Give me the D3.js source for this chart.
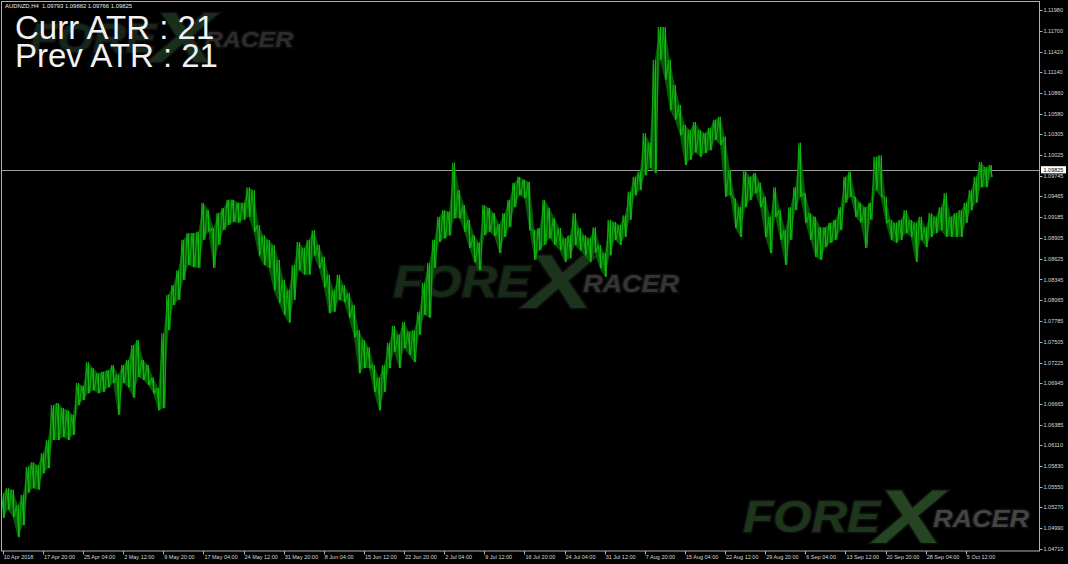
<!DOCTYPE html>
<html>
<head>
<meta charset="utf-8">
<script src="https://cdn.jsdelivr.net/npm/d3@7"></script>
<style>
  html, body { margin: 0; padding: 0; background: #000; }
  svg { display: block; }
</style>
</head>
<body>
<svg id="chart" width="1068" height="564"></svg>
<script>
// ---------------- DATA ----------------
const symbol = "AUDNZD,H4";
const ohlcHeader = [1.09793, 1.09882, 1.09766, 1.09825];
const lastPrice = 1.09825;
const currATR = 21;
const prevATR = 21;

const priceTicks = [1.11980, 1.11700, 1.11420, 1.11140, 1.10860, 1.10580, 1.10305, 1.10025,
  1.09745, 1.09465, 1.09185, 1.08905, 1.08625, 1.08345, 1.08065, 1.07785, 1.07505, 1.07225,
  1.06945, 1.06665, 1.06385, 1.06110, 1.05830, 1.05550, 1.05270, 1.04990, 1.04710];

const timeLabels = ["10 Apr 2018", "17 Apr 20:00", "25 Apr 04:00", "2 May 12:00", "9 May 20:00",
  "17 May 04:00", "24 May 12:00", "31 May 20:00", "8 Jun 04:00", "15 Jun 12:00", "22 Jun 20:00",
  "2 Jul 04:00", "9 Jul 12:00", "16 Jul 20:00", "24 Jul 04:00", "31 Jul 12:00", "7 Aug 20:00",
  "15 Aug 04:00", "22 Aug 12:00", "29 Aug 20:00", "6 Sep 04:00", "13 Sep 12:00", "20 Sep 20:00",
  "28 Sep 04:00", "5 Oct 12:00"];
const barsPerLabel = 32;   // H4 bars between time labels
const barsPerGroup = 4;    // each hi/lo pair covers 4 H4 bars

// highs and lows of consecutive 4-bar groups (16 hours each)
const highs = [1.0546,1.0553,1.0551,1.0530,1.0544,1.0582,1.0588,1.0584,1.0600,1.0618,
  1.0665,1.0668,1.0661,1.0658,1.0652,1.0695,1.0691,1.0723,1.0715,1.0708,
  1.0710,1.0712,1.0719,1.0706,1.0719,1.0726,1.0746,1.0753,1.0726,1.0719,
  1.0702,1.0688,1.0762,1.0814,1.0827,1.0847,1.0888,1.0897,1.0897,1.0899,
  1.0938,1.0928,1.0904,1.0924,1.0931,1.0942,1.0942,1.0938,1.0938,1.0959,
  1.0955,1.0908,1.0894,1.0888,1.0881,1.0861,1.0834,1.0820,1.0854,1.0885,
  1.0877,1.0888,1.0901,1.0881,1.0865,1.0841,1.0820,1.0841,1.0827,1.0816,
  1.0800,1.0766,1.0753,1.0743,1.0719,1.0702,1.0719,1.0749,1.0772,1.0760,
  1.0777,1.0764,1.0766,1.0791,1.0830,1.0857,1.0888,1.0919,1.0928,1.0926,
  1.0992,1.0955,1.0935,1.0915,1.0894,1.0884,1.0935,1.0931,1.0924,1.0909,
  1.0924,1.0942,1.0965,1.0973,1.0969,1.0966,1.0901,1.0904,1.0942,1.0931,
  1.0917,1.0904,1.0890,1.0894,1.0924,1.0904,1.0894,1.0890,1.0905,1.0881,
  1.0870,1.0915,1.0912,1.0908,1.0921,1.0953,1.0973,1.0980,1.1032,1.1019,
  1.1131,1.1175,1.1175,1.1131,1.1097,1.1070,1.1043,1.1036,1.1047,1.1036,
  1.1032,1.1039,1.1050,1.1054,1.1027,1.0982,1.0944,1.0932,1.0982,1.0973,
  1.0978,1.0965,1.0946,1.0919,1.0959,1.0928,1.0901,1.0932,1.0959,1.1019,
  1.0951,1.0924,1.0919,1.0905,1.0905,1.0911,1.0915,1.0932,1.0973,1.0980,
  1.0946,1.0938,1.0932,1.0938,1.1000,1.1002,1.0946,1.0915,1.0911,1.0915,
  1.0928,1.0915,1.0911,1.0919,1.0905,1.0924,1.0919,1.0932,1.0951,1.0919,
  1.0924,1.0928,1.0938,1.0955,1.0973,1.0993,1.0986,1.0989];

const lows = [1.0513,1.0524,1.0514,1.0487,1.0503,1.0547,1.0553,1.0551,1.0573,1.0580,
  1.0618,1.0618,1.0622,1.0618,1.0625,1.0665,1.0672,1.0681,1.0685,1.0681,
  1.0683,1.0689,1.0695,1.0652,1.0695,1.0689,1.0675,1.0703,1.0699,1.0692,
  1.0681,1.0658,1.0661,1.0766,1.0800,1.0807,1.0834,1.0854,1.0851,1.0850,
  1.0888,1.0899,1.0850,1.0881,1.0901,1.0908,1.0912,1.0911,1.0915,1.0919,
  1.0899,1.0867,1.0854,1.0850,1.0820,1.0803,1.0787,1.0776,1.0807,1.0847,
  1.0841,1.0841,1.0867,1.0850,1.0824,1.0789,1.0791,1.0807,1.0804,1.0783,
  1.0757,1.0708,1.0715,1.0715,1.0683,1.0658,1.0683,1.0715,1.0737,1.0715,
  1.0742,1.0733,1.0723,1.0760,1.0787,1.0783,1.0850,1.0885,1.0890,1.0894,
  1.0917,1.0917,1.0899,1.0877,1.0858,1.0847,1.0894,1.0899,1.0893,1.0870,
  1.0892,1.0905,1.0932,1.0948,1.0944,1.0901,1.0861,1.0874,1.0881,1.0890,
  1.0881,1.0874,1.0858,1.0863,1.0881,1.0874,1.0867,1.0858,1.0871,1.0850,
  1.0838,1.0867,1.0888,1.0881,1.0892,1.0915,1.0948,1.0955,1.0975,1.0985,
  1.0978,1.1131,1.1104,1.1063,1.1050,1.1029,1.0989,1.0996,1.1006,1.1000,
  1.1005,1.1009,1.1023,1.1016,1.0946,1.0948,1.0904,1.0892,1.0932,1.0942,
  1.0951,1.0932,1.0892,1.0870,1.0919,1.0888,1.0854,1.0888,1.0928,1.0946,
  1.0911,1.0888,1.0865,1.0861,1.0878,1.0884,1.0888,1.0901,1.0938,1.0946,
  1.0919,1.0911,1.0877,1.0915,1.0955,1.0946,1.0911,1.0888,1.0884,1.0888,
  1.0897,1.0892,1.0858,1.0888,1.0878,1.0892,1.0897,1.0901,1.0892,1.0892,
  1.0892,1.0892,1.0911,1.0928,1.0938,1.0959,1.0959,1.0973];

// ---------------- LAYOUT ----------------
const W = 1068, H = 564;
const plot = { left: 1.5, top: 1.5, right: 1039.5, bottom: 551 };
const svg = d3.select("#chart");
svg.append("rect").attr("width", W).attr("height", H).attr("fill", "#000");

// x: H4 bar index ; y: price
const x = d3.scaleLinear().domain([0, barsPerLabel * 24]).range([2.75, 965.8]);
const y = d3.scaleLinear().domain([priceTicks[priceTicks.length - 1], priceTicks[0]]).range([549, 10]);

const fontAxis = "'Liberation Sans', Arial, sans-serif";
const axisSize = 5.5;

// ---------------- WATERMARKS ----------------
function logo(g, x0, base, s, cols) {
  const grp = g.append("g").attr("transform", `translate(${x0},${base}) scale(${s})`);
  const common = t => t.attr("font-family", fontAxis).attr("font-weight", "bold")
    .attr("font-style", "italic").attr("stroke", "#0e0e0e").attr("stroke-width", 3)
    .attr("paint-order", "stroke");
  common(grp.append("text").text("FORE").attr("x", 0).attr("y", 0)
    .attr("font-size", 44).attr("textLength", 137).attr("lengthAdjust", "spacingAndGlyphs")
    .attr("fill", cols[0]));
  common(grp.append("text").text("X").attr("x", 132).attr("y", 11)
    .attr("font-size", 76).attr("textLength", 68).attr("lengthAdjust", "spacingAndGlyphs")
    .attr("fill", cols[1]));
  common(grp.append("text").text("RACER").attr("x", 190).attr("y", -5)
    .attr("font-size", 24).attr("textLength", 96).attr("lengthAdjust", "spacingAndGlyphs")
    .attr("fill", cols[2]));
}
const wm = svg.append("g").attr("class", "watermarks");
logo(wm, 30, 52, 0.92, ["#15261a", "#1a2e1c", "#2c2c2c"]);
logo(wm, 393, 297, 1.0, ["#172a17", "#1c341b", "#353535"]);
logo(wm, 743, 532, 1.0, ["#1d361b", "#254522", "#444444"]);

// ---------------- PRICE LINE ----------------
svg.append("line")
  .attr("x1", plot.left).attr("x2", plot.right)
  .attr("y1", Math.round(y(lastPrice)) + 0.5).attr("y2", Math.round(y(lastPrice)) + 0.5)
  .attr("stroke", "#9a9a9a").attr("stroke-width", 1);

// ---------------- PRICE BARS ----------------
const groups = highs.map((h, i) => ({ bar: i * barsPerGroup, hi: h, lo: lows[i] }));

// body of densely packed bars
svg.append("path").datum(groups)
  .attr("d", d3.area().x(d => x(d.bar)).y0(d => y(d.lo)).y1(d => y(d.hi)))
  .attr("fill", "#067006").attr("fill-opacity", 0.8).attr("stroke", "none");

// zig-zag texture: high of each group then low, like packed OHLC bars
const zig = [];
groups.forEach(d => { zig.push({ bar: d.bar - 1.2, p: d.hi }); zig.push({ bar: d.bar + 1.2, p: d.lo }); });
svg.append("path").datum(zig)
  .attr("d", d3.line().x(d => x(d.bar)).y(d => y(d.p)))
  .attr("fill", "none").attr("stroke", "#0ca50c").attr("stroke-width", 1.2);

svg.append("g").selectAll("line").data(groups).join("line")
  .attr("x1", d => Math.round(x(d.bar)) + 0.5).attr("x2", d => Math.round(x(d.bar)) + 0.5)
  .attr("y1", d => y(d.hi)).attr("y2", d => y(d.lo))
  .attr("stroke", "#14b614").attr("stroke-width", 1);

// ---------------- FRAME ----------------
svg.append("rect")
  .attr("x", plot.left).attr("y", plot.top)
  .attr("width", plot.right - plot.left).attr("height", plot.bottom - plot.top)
  .attr("fill", "none").attr("stroke", "#b0b0b0").attr("stroke-width", 1);

// ---------------- PRICE AXIS ----------------
const yAxis = svg.append("g");
yAxis.selectAll("line").data(priceTicks).join("line")
  .attr("x1", plot.right).attr("x2", plot.right + 3)
  .attr("y1", d => Math.round(y(d)) + 0.5).attr("y2", d => Math.round(y(d)) + 0.5)
  .attr("stroke", "#b0b0b0");
yAxis.selectAll("text").data(priceTicks).join("text")
  .attr("x", 1043.5).attr("y", d => y(d) + 2)
  .attr("font-family", fontAxis).attr("font-size", axisSize).attr("fill", "#d8d8d8")
  .text(d => d.toFixed(5));

// current price label
const ly = y(lastPrice);
svg.append("rect").attr("x", 1041).attr("y", ly - 3.6).attr("width", 25).attr("height", 7.2)
  .attr("fill", "#ffffff");
svg.append("text").attr("x", 1043.5).attr("y", ly + 2)
  .attr("font-family", fontAxis).attr("font-size", axisSize).attr("fill", "#000")
  .text(lastPrice.toFixed(5));

// ---------------- TIME AXIS ----------------
const xAxis = svg.append("g");
const tIdx = timeLabels.map((t, i) => ({ t, bar: i * barsPerLabel }));
xAxis.selectAll("line").data(tIdx).join("line")
  .attr("x1", d => Math.round(x(d.bar)) + 0.5).attr("x2", d => Math.round(x(d.bar)) + 0.5)
  .attr("y1", plot.bottom).attr("y2", plot.bottom + 3.5)
  .attr("stroke", "#b0b0b0");
xAxis.selectAll("text").data(tIdx).join("text")
  .attr("x", d => x(d.bar) + 1).attr("y", 558.5)
  .attr("font-family", fontAxis).attr("font-size", axisSize).attr("fill", "#d8d8d8")
  .text(d => d.t);

// ---------------- HEADER & ATR ----------------
svg.append("text").attr("x", 5).attr("y", 8.2)
  .attr("font-family", fontAxis).attr("font-size", 5.9).attr("fill", "#e8e8e8")
  .attr("xml:space", "preserve")
  .text(symbol + "  " + ohlcHeader.map(v => v.toFixed(5)).join(" "));

svg.append("text").attr("x", 15).attr("y", 38.5)
  .attr("font-family", fontAxis).attr("font-size", 33).attr("fill", "#f2f2f2")
  .text("Curr ATR : " + currATR);
svg.append("text").attr("x", 15).attr("y", 67)
  .attr("font-family", fontAxis).attr("font-size", 33).attr("fill", "#f2f2f2")
  .text("Prev ATR : " + prevATR);
</script>
</body>
</html>
